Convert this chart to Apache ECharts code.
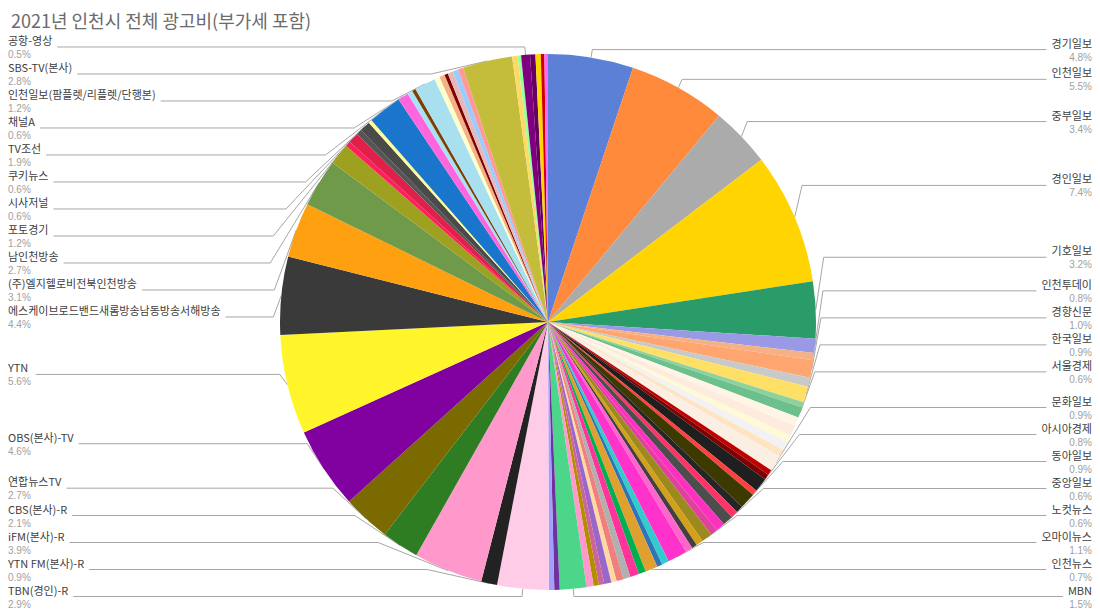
<!DOCTYPE html>
<html>
<head>
<meta charset="utf-8">
<script src="https://cdn.jsdelivr.net/npm/echarts@6/dist/echarts.min.js"></script>
<style>
	html, body { margin: 0; padding: 0; background: #fff; }
	#chart { width: 1100px; height: 610px; }
</style>
</head>
<body>
<div id="chart"></div>
<script>
// Slices clockwise from 12 o'clock; "" = small slice without a label
var names = [
	'경기일보', '인천일보', '중부일보', '경인일보', '기호일보', '인천투데이', '', '경향신문', '', '한국일보', '', '서울경제',
	'', '', '', '', '', '문화일보', '', '', '아시아경제', '', '동아일보', '', '', '중앙일보', '', '', '노컷뉴스',
	'', '', '', '오마이뉴스', '', '', '인천뉴스', '', '', '', '', '', '', '', '', '', 'MBN', '', '',
	'TBN(경인)-R', 'YTN FM(본사)-R', 'iFM(본사)-R', 'CBS(본사)-R', '연합뉴스TV', 'OBS(본사)-TV', 'YTN',
	'에스케이브로드밴드새롬방송남동방송서해방송', '(주)엘지헬로비전북인천방송', '남인천방송', '포토경기', '', '시사저널', '',
	'쿠키뉴스', '', 'TV조선', '채널A', '', '', '인천일보(팜플렛/리플렛/단행본)', '', '', '', '', '', '',
	'SBS-TV(본사)', '', '', '공항-영상', '', '', '', ''
];
var values = [
	4.8, 5.5, 3.4, 7.4, 3.2, 0.8, 0.4, 1.0, 0.5, 0.9, 0.3, 0.6,
	0.5, 0.6, 0.4, 0.5, 0.4, 0.9, 0.3, 0.3, 0.8, 0.3, 0.9, 0.4, 0.4, 0.6, 0.5, 0.4, 0.6,
	0.4, 0.3, 0.4, 1.1, 0.4, 0.3, 0.7, 0.4, 0.5, 0.4, 0.4, 0.3, 0.4, 0.3, 0.3, 0.4, 1.5, 0.3, 0.3,
	2.9, 0.9, 3.9, 2.1, 2.7, 4.6, 5.6,
	4.4, 3.1, 2.7, 1.2, 0.3, 0.6, 0.3,
	0.6, 0.2, 1.9, 0.6, 0.3, 0.2, 1.2, 0.3, 0.3, 0.2, 0.3, 0.3, 0.3,
	2.8, 0.3, 0.2, 0.5, 0.3, 0.3, 0.2, 0.2
];
var colors = [
	'#5B80D6', '#FF8A3B', '#ABABAB', '#FFD400', '#2A9C6A', '#9999E6', '#F4B183', '#FFA570', '#C9C9C9', '#FFE066', '#8FD19E', '#6CC08B',
	'#FFF5E6', '#FDEBDD', '#FFF9D6', '#F2F2F2', '#FFE4C4', '#FBEFE3', '#C00000', '#7F0000', '#1F1F1F', '#FF4040', '#3D3A00', '#262626', '#FF3366', '#4D4D4D', '#FF2FBF', '#E040A0', '#9C8A1E',
	'#D4A017', '#404040', '#FF66CC', '#FF33CC', '#33CCCC', '#2E75B6', '#E0A030', '#00B050', '#FF3399', '#B0B0B0', '#F08080', '#FFD9A0', '#9966CC', '#CC6699', '#B38F00', '#FF99CC', '#4CD68A', '#7030A0', '#A0A0FF',
	'#FFCCE8', '#222222', '#FF99CC', '#2E7D22', '#7A6A00', '#8000A0', '#FFF52A',
	'#3A3A3A', '#FFA010', '#6E9A4A', '#9EA020', '#FF1F5A', '#E0204A', '#555555',
	'#4A4A4A', '#FFFF99', '#1A75CC', '#FF66DD', '#A6E1F5', '#7F3F00', '#A8E0F0', '#FFFFCC', '#F4B183', '#7F0000', '#E6B8B7', '#99CCFF', '#FF9999',
	'#C4BD3C', '#FFD966', '#99FF99', '#7F007F', '#660066', '#FFD700', '#CC0000', '#FF66FF'
];

var chart = echarts.init(document.getElementById('chart'), '', { renderer: 'svg' });
var data = [];
for (let i = 0; i < values.length; i++) {
	let hasLabel = names[i] != '';
	data.push({
		name: hasLabel ? names[i] : ('기타' + i),
		value: values[i],
		itemStyle: { color: colors[i] },
		label: { show: hasLabel },
		labelLine: { show: hasLabel }
	});
}

chart.setOption({
	animation: false,
	title: {
		text: '2021년 인천시 전체 광고비(부가세 포함)',
		left: 6, top: 6,
		textStyle: { fontSize: 18, fontWeight: 'normal', color: '#6B6B6B', fontFamily: 'Noto Sans CJK KR' }
	},
	series: [{
		type: 'pie',
		center: [548, 322],
		radius: [0, 268],
		startAngle: 90,
		data: data,
		itemStyle: { borderWidth: 0 },
		label: {
			alignTo: 'edge',
			edgeDistance: 8,
			formatter: function(p) { return '{n|' + p.name + '}\n{p|' + p.value.toFixed(1) + '%}'; },
			rich: {
				n: { fontSize: 11, color: '#404040', lineHeight: 15, fontFamily: 'Noto Sans CJK KR' },
				p: { fontSize: 10, color: '#A0A0A0', lineHeight: 14 }
			}
		},
		labelLine: { length: 8, length2: 0, lineStyle: { color: '#A6A6A6', width: 1 } }
	}]
});
</script>
</body>
</html>
